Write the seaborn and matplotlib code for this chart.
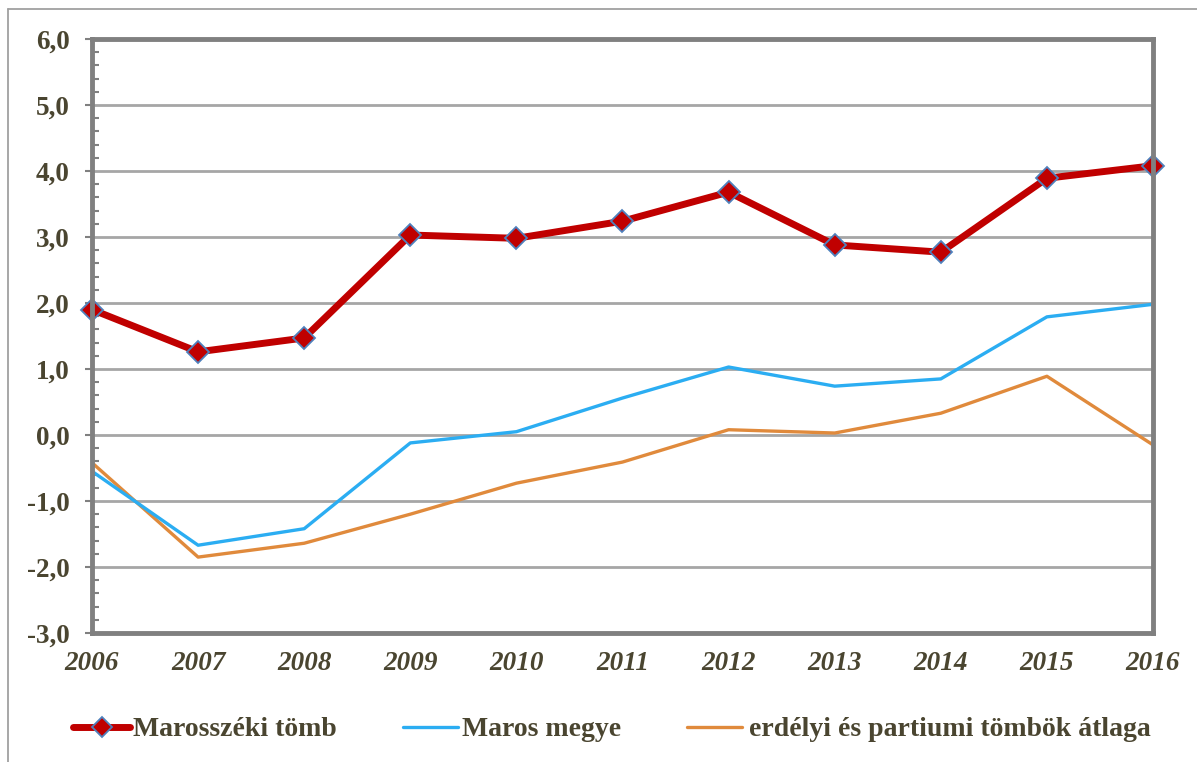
import numpy as np
import pandas as pd
import matplotlib
matplotlib.use("Agg")
import matplotlib.pyplot as plt
from matplotlib.ticker import MultipleLocator, FuncFormatter
from matplotlib.lines import Line2D
import seaborn as sns

# data
years = [2006, 2007, 2008, 2009, 2010, 2011, 2012, 2013, 2014, 2015, 2016]
marosszek = [1.90, 1.26, 1.47, 3.03, 2.98, 3.24, 3.68, 2.88, 2.77, 3.89, 4.08]
maros_megye = [-0.55, -1.67, -1.42, -0.12, 0.05, 0.56, 1.03, 0.74, 0.85, 1.79, 1.98]
erdelyi = [-0.42, -1.85, -1.64, -1.20, -0.73, -0.41, 0.08, 0.03, 0.33, 0.89, -0.15]
series_names = ["Marosszéki tömb", "Maros megye", "erdélyi és partiumi tömbök átlaga"]

df = pd.DataFrame({"year": years, series_names[0]: marosszek,
                   series_names[1]: maros_megye, series_names[2]: erdelyi})

sns.set_style("white")
plt.rcParams["font.family"] = ["Liberation Serif", "DejaVu Serif"]
plt.rcParams["font.weight"] = "bold"

text_col = "#4a4530"
red = "#c00000"
blue = "#2badf2"
orange = "#e08a3c"

W, H = 1197, 762
fig = plt.figure(figsize=(W / 100, H / 100), dpi=100)
ax = fig.add_axes([92 / W, 1 - 633 / H, (1153 - 92) / W, (633 - 39) / H])

# outer frame (left and top edges only visible)
fig.add_artist(Line2D([8 / W, 8 / W], [0, 1 - 9 / H], transform=fig.transFigure,
                      color="#a0a0a0", lw=1.3))
fig.add_artist(Line2D([8 / W, 1], [1 - 9 / H, 1 - 9 / H], transform=fig.transFigure,
                      color="#a0a0a0", lw=1.3))

ax.grid(axis="y", color="#a6a6a6", lw=2, zorder=0)
ax.grid(axis="x", visible=False)

sns.lineplot(data=df, x="year", y=series_names[2], ax=ax, color=orange, lw=2.4, zorder=3)
sns.lineplot(data=df, x="year", y=series_names[1], ax=ax, color=blue, lw=2.4, zorder=3)
sns.lineplot(data=df, x="year", y=series_names[0], ax=ax, color=red, lw=5,
             marker="D", markersize=11, markerfacecolor=red, markeredgecolor="#4f81bd",
             markeredgewidth=1.3, zorder=4, clip_on=False)

ax.set_xlim(2006, 2016)
ax.set_ylim(-3, 6)
ax.set_xticks(years)
ax.yaxis.set_major_locator(MultipleLocator(1))
ax.yaxis.set_minor_locator(MultipleLocator(0.2))
ax.yaxis.set_major_formatter(FuncFormatter(lambda v, p: f"{v:.1f}".replace(".", ",")))
ax.set_xlabel("")
ax.set_ylabel("")

for s in ax.spines.values():
    s.set_color("#808080")
    s.set_linewidth(3.5)
    s.set_zorder(5)

ax.tick_params(axis="y", which="major", direction="out", length=5, width=1.5, color="#808080",
               labelsize=19.5, labelcolor=text_col, pad=11, left=True)
ax.tick_params(axis="y", which="minor", direction="in", length=5, width=1.5, color="#808080", left=True)
ax.tick_params(axis="x", length=0, labelsize=19.5, labelcolor=text_col, pad=13)
for t in ax.get_xticklabels():
    t.set_fontstyle("italic")
    t.set_fontweight("bold")
for t in ax.get_yticklabels():
    t.set_fontweight("bold")

# legend drawn by hand to match the spacing
ly = 1 - 727 / H
handle_x = [(73, 130), (403, 458), (687, 742)]
text_x = [133, 462, 749]
styles = [dict(color=red, lw=5, solid_capstyle="round"),
          dict(color=blue, lw=2.4, solid_capstyle="round"),
          dict(color=orange, lw=2.4, solid_capstyle="round")]
for (x0, x1), tx, st, name in zip(handle_x, text_x, styles, series_names):
    fig.add_artist(Line2D([x0 / W, x1 / W], [ly, ly], transform=fig.transFigure, **st))
    fig.text(tx / W, ly - 2 / H, name, ha="left", va="center", fontsize=20, fontweight="bold",
             color=text_col)
fig.add_artist(Line2D([(73 + 130) / 2 / W], [ly], transform=fig.transFigure, marker="D",
                      markersize=10, markerfacecolor=red, markeredgecolor="#4f81bd",
                      markeredgewidth=1.3, lw=0))

fig.savefig("out.png", dpi=100)
